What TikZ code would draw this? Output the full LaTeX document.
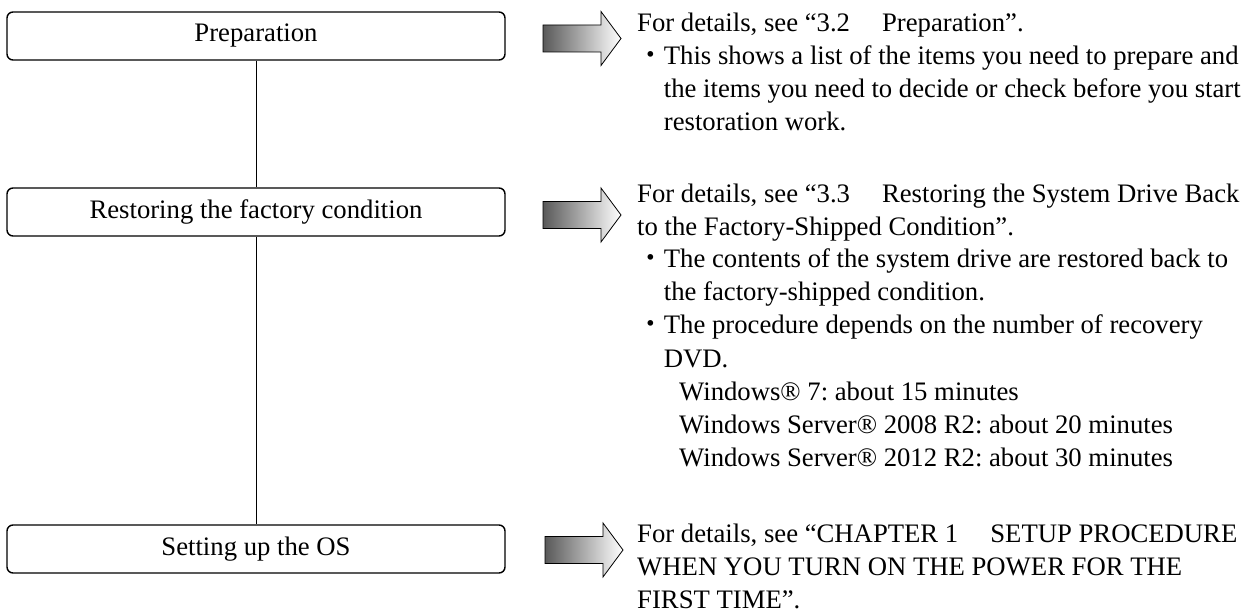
\documentclass[tikz,border=0pt]{standalone}
\usepackage{fontspec}
\setmainfont{Liberation Serif}
\newfontfamily\cjkjp{Noto Sans CJK JP}
\newcommand\mybul{\makebox[1em][c]{\cjkjp ・}}
\frenchspacing
\begin{document}
\begin{tikzpicture}[x=1pt,y=-1pt]
\tikzset{
  flowbox/.style={draw, line width=1.4pt, rounded corners=6pt, minimum width=498pt,
    minimum height=48pt, inner sep=0pt, font=\fontsize{26.7}{33}\selectfont},
  txtline/.style={anchor=base west, inner sep=0pt, font=\fontsize{26.7}{33}\selectfont},
  fatarrow/.style={draw=black, line width=0.8pt, left color=black!65, right color=white},
  link/.style={draw, line width=0.9pt}
}
\useasboundingbox (0,0) rectangle (1248,612);

% flow boxes
\node[flowbox] (prep)  at (256,36)  {Preparation};
\node[flowbox] (rest)  at (256,212) {Restoring the factory condition};
\node[flowbox] (setup) at (256,549) {Setting up the OS};
\draw[link] (prep.south) -- (rest.north);
\draw[link] (rest.south) -- (setup.north);

% fat arrows
\coordinate (a1) at (543,38.5);
\coordinate (a2) at (543,215);
\coordinate (a3) at (545,550);
\foreach \a in {a1,a2,a3}{
  \path[fatarrow] (\a) ++(0,-13.5) -- ++(58,0) -- ++(0,-13.5) -- ++(20,27)
    -- ++(-20,27) -- ++(0,-13.5) -- ++(-58,0) -- cycle;
}

% text, paragraph 1
\node[txtline] (l1) at (637,32)  {For details, see “3.2\hspace{1.2em}Preparation”.};
\node[txtline] (l2) at (637,65)  {\mybul This shows a list of the items you need to prepare and};
\node[txtline] (l3) at (663.7,98)  {the items you need to decide or check before you start};
\node[txtline] (l4) at (663.7,131) {restoration work.};

% paragraph 2
\node[txtline] (l5)  at (637,203) {For details, see “3.3\hspace{1.2em}Restoring the System Drive Back};
\node[txtline] (l6)  at (637,235.5) {to the Factory-Shipped Condition”.};
\node[txtline] (l7)  at (637,268) {\mybul The contents of the system drive are restored back to};
\node[txtline] (l8)  at (663.7,301) {the factory-shipped condition.};
\node[txtline] (l9)  at (637,334) {\mybul The procedure depends on the number of recovery};
\node[txtline] (l10) at (663.7,367) {DVD.};
\node[txtline] (l11) at (679,400) {Windows® 7: about 15 minutes};
\node[txtline] (l12) at (679,433) {Windows Server® 2008 R2: about 20 minutes};
\node[txtline] (l13) at (679,466) {Windows Server® 2012 R2: about 30 minutes};

% paragraph 3
\node[txtline] (l14) at (637,542) {For details, see “CHAPTER 1\hspace{1.2em}SETUP PROCEDURE};
\node[txtline] (l15) at (637,575) {WHEN YOU TURN ON THE POWER FOR THE};
\node[txtline] (l16) at (637,608) {FIRST TIME”.};
\end{tikzpicture}
\end{document}
